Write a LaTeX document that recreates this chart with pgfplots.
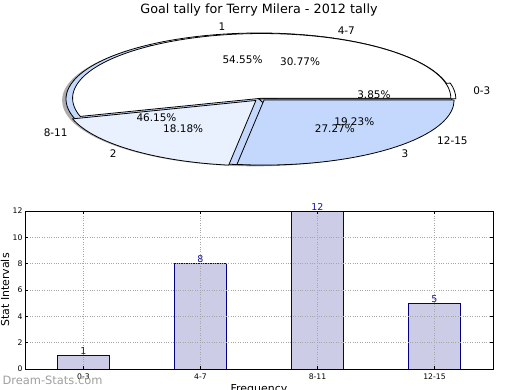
\documentclass[border=0pt]{standalone}
\usepackage{pgfplots}
\pgfplotsset{compat=1.18}
\usepackage{fontspec}
\setmainfont{DejaVu Sans}
\definecolor{pieB}{HTML}{EAF1FE}
\definecolor{pieC}{HTML}{C4D8FD}
\definecolor{barfill}{HTML}{CCCCE6}
\definecolor{baredge}{HTML}{000080}
\definecolor{vallab}{HTML}{1414A0}
% data: goals-per-game tally (1, 2, 3) and interval frequencies (0-3, 4-7, 8-11, 12-15)
\def\pa{6}\def\pb{2}\def\pc{3}
\def\qa{1}\def\qb{8}\def\qc{12}\def\qd{5}
\pgfmathsetmacro\Pt{\pa+\pb+\pc}
\pgfmathsetmacro\PA{360*\pa/\Pt}
\pgfmathsetmacro\PB{\PA+360*\pb/\Pt}
\pgfmathsetmacro\Qt{\qa+\qb+\qc+\qd}
\pgfmathsetmacro\QA{360*\qa/\Qt}
\pgfmathsetmacro\QB{\QA+360*\qb/\Qt}
\pgfmathsetmacro\QC{\QB+360*\qc/\Qt}
\pgfmathsetmacro\mPA{\PA/2}
\pgfmathsetmacro\mPB{(\PA+\PB)/2}
\pgfmathsetmacro\mPC{(\PB+360)/2}
\pgfmathsetmacro\mQA{\QA/2}
\pgfmathsetmacro\mQB{(\QA+\QB)/2}
\pgfmathsetmacro\mQC{(\QB+\QC)/2}
\pgfmathsetmacro\mQD{(\QC+360)/2}
\newcommand{\slice}[6]{%
  \filldraw[fill=#6,draw=black,line width=0.8bp,line join=round]
    (axis cs:#1,#2) -- (axis cs:{#1+#3*cos(#4)},{#2+#3*sin(#4)})
    arc[start angle=#4,end angle=#5,x radius=#3,y radius=#3] -- cycle;}
\begin{document}
\begin{tikzpicture}
\useasboundingbox (0,0) rectangle (520bp,390bp);
\node[font=\fontsize{12.8}{14}\selectfont] at (259bp,380bp) {Goal tally for Terry Milera - 2012 tally};
% ---------- pie ----------
\begin{axis}[at={(66bp,225bp)}, anchor=south west, scale only axis,
  width=386bp, height=132bp, xmin=-1, xmax=1, ymin=-1, ymax=1,
  hide axis, clip=false]
  \fill[gray!65] (axis cs:-0.02,-0.02) ellipse [x radius=1, y radius=1];
  % outer set: intervals
  \slice{0.02}{0.0024}{1}{0}{\QA}{white}
  \slice{0}{0}{1}{\QA}{\QB}{white}
  \slice{0}{0}{1}{\QB}{\QC}{pieC}
  \slice{0}{0}{1}{\QC}{360}{pieC}
  % inner set: goals per game
  \slice{0.014}{0.012}{0.98}{0}{\PA}{white}
  \slice{-0.016}{-0.022}{0.99}{\PA}{\PB}{pieB}
  \slice{0.026}{-0.016}{0.985}{\PB}{360}{pieC}
  \begin{scope}[every node/.style={font=\fontsize{10.5}{12}\selectfont}]
  \node at (axis cs:{0.6*cos(\mPA)},{0.6*sin(\mPA)}) {54.55\%};
  \node at (axis cs:{0.6*cos(\mPB)},{0.6*sin(\mPB)}) {18.18\%};
  \node at (axis cs:{0.6*cos(\mPC)},{0.6*sin(\mPC)}) {27.27\%};
  \node at (axis cs:{0.6*cos(\mQA)},{0.6*sin(\mQA)}) {3.85\%};
  \node at (axis cs:{0.6*cos(\mQB)},{0.6*sin(\mQB)}) {30.77\%};
  \node at (axis cs:{0.6*cos(\mQC)},{0.6*sin(\mQC)}) {46.15\%};
  \node at (axis cs:{0.6*cos(\mQD)},{0.6*sin(\mQD)}) {19.23\%};
  \node[anchor=east] at (axis cs:{1.1*cos(\mPA)},{1.1*sin(\mPA)}) {1};
  \node[anchor=east] at (axis cs:{1.1*cos(\mPB)},{1.1*sin(\mPB)}) {2};
  \node[anchor=west] at (axis cs:{1.1*cos(\mPC)},{1.1*sin(\mPC)}) {3};
  \node[anchor=west] at (axis cs:{1.1*cos(\mQA)},{1.1*sin(\mQA)}) {0-3};
  \node[anchor=west] at (axis cs:{1.1*cos(\mQB)},{1.1*sin(\mQB)}) {4-7};
  \node[anchor=east] at (axis cs:{1.1*cos(\mQC)},{1.1*sin(\mQC)}) {8-11};
  \node[anchor=west] at (axis cs:{1.1*cos(\mQD)},{1.1*sin(\mQD)}) {12-15};
  \end{scope}
\end{axis}
% ---------- bars ----------
\begin{axis}[at={(25bp,21bp)}, anchor=south west, scale only axis,
  width=468bp, height=158bp, xmin=-0.5, xmax=3.5, ymin=0, ymax=12,
  xtick={0,1,2,3}, xticklabels={0-3,4-7,8-11,12-15},
  ytick={0,2,...,12},
  axis on top,
  grid=major, grid style={dotted, gray!70, line width=0.7bp},
  tick label style={font=\fontsize{7.7}{9}\selectfont},
  /pgf/number format/assume math mode=true,
  xticklabel style={yshift=-1bp},
  yticklabel style={xshift=1bp},
  axis line style={line width=0.8bp},
  major tick length=3bp, tick style={black, line width=0.5bp},
  ylabel={Stat Intervals}, xlabel={Frequency},
  label style={font=\fontsize{11}{13}\selectfont},
  ylabel style={at={(axis description cs:-0.0427,0.5)}, anchor=center},
  xlabel style={at={(axis description cs:0.5,-0.13)}, anchor=center},
]
\addplot[ybar, bar width=0.45, fill=barfill, draw=baredge, line width=0.8bp,
  nodes near coords,
  nodes near coords style={font=\fontsize{9.5}{10}\selectfont, color=vallab, inner sep=0.5bp}]
  coordinates {(0,1) (1,8) (2,12) (3,5)};
\end{axis}
\node[anchor=west, text=gray!75, font=\fontsize{11.5}{13}\selectfont] at (-1bp,10bp) {Dream-Stats.com};
\end{tikzpicture}
\end{document}
